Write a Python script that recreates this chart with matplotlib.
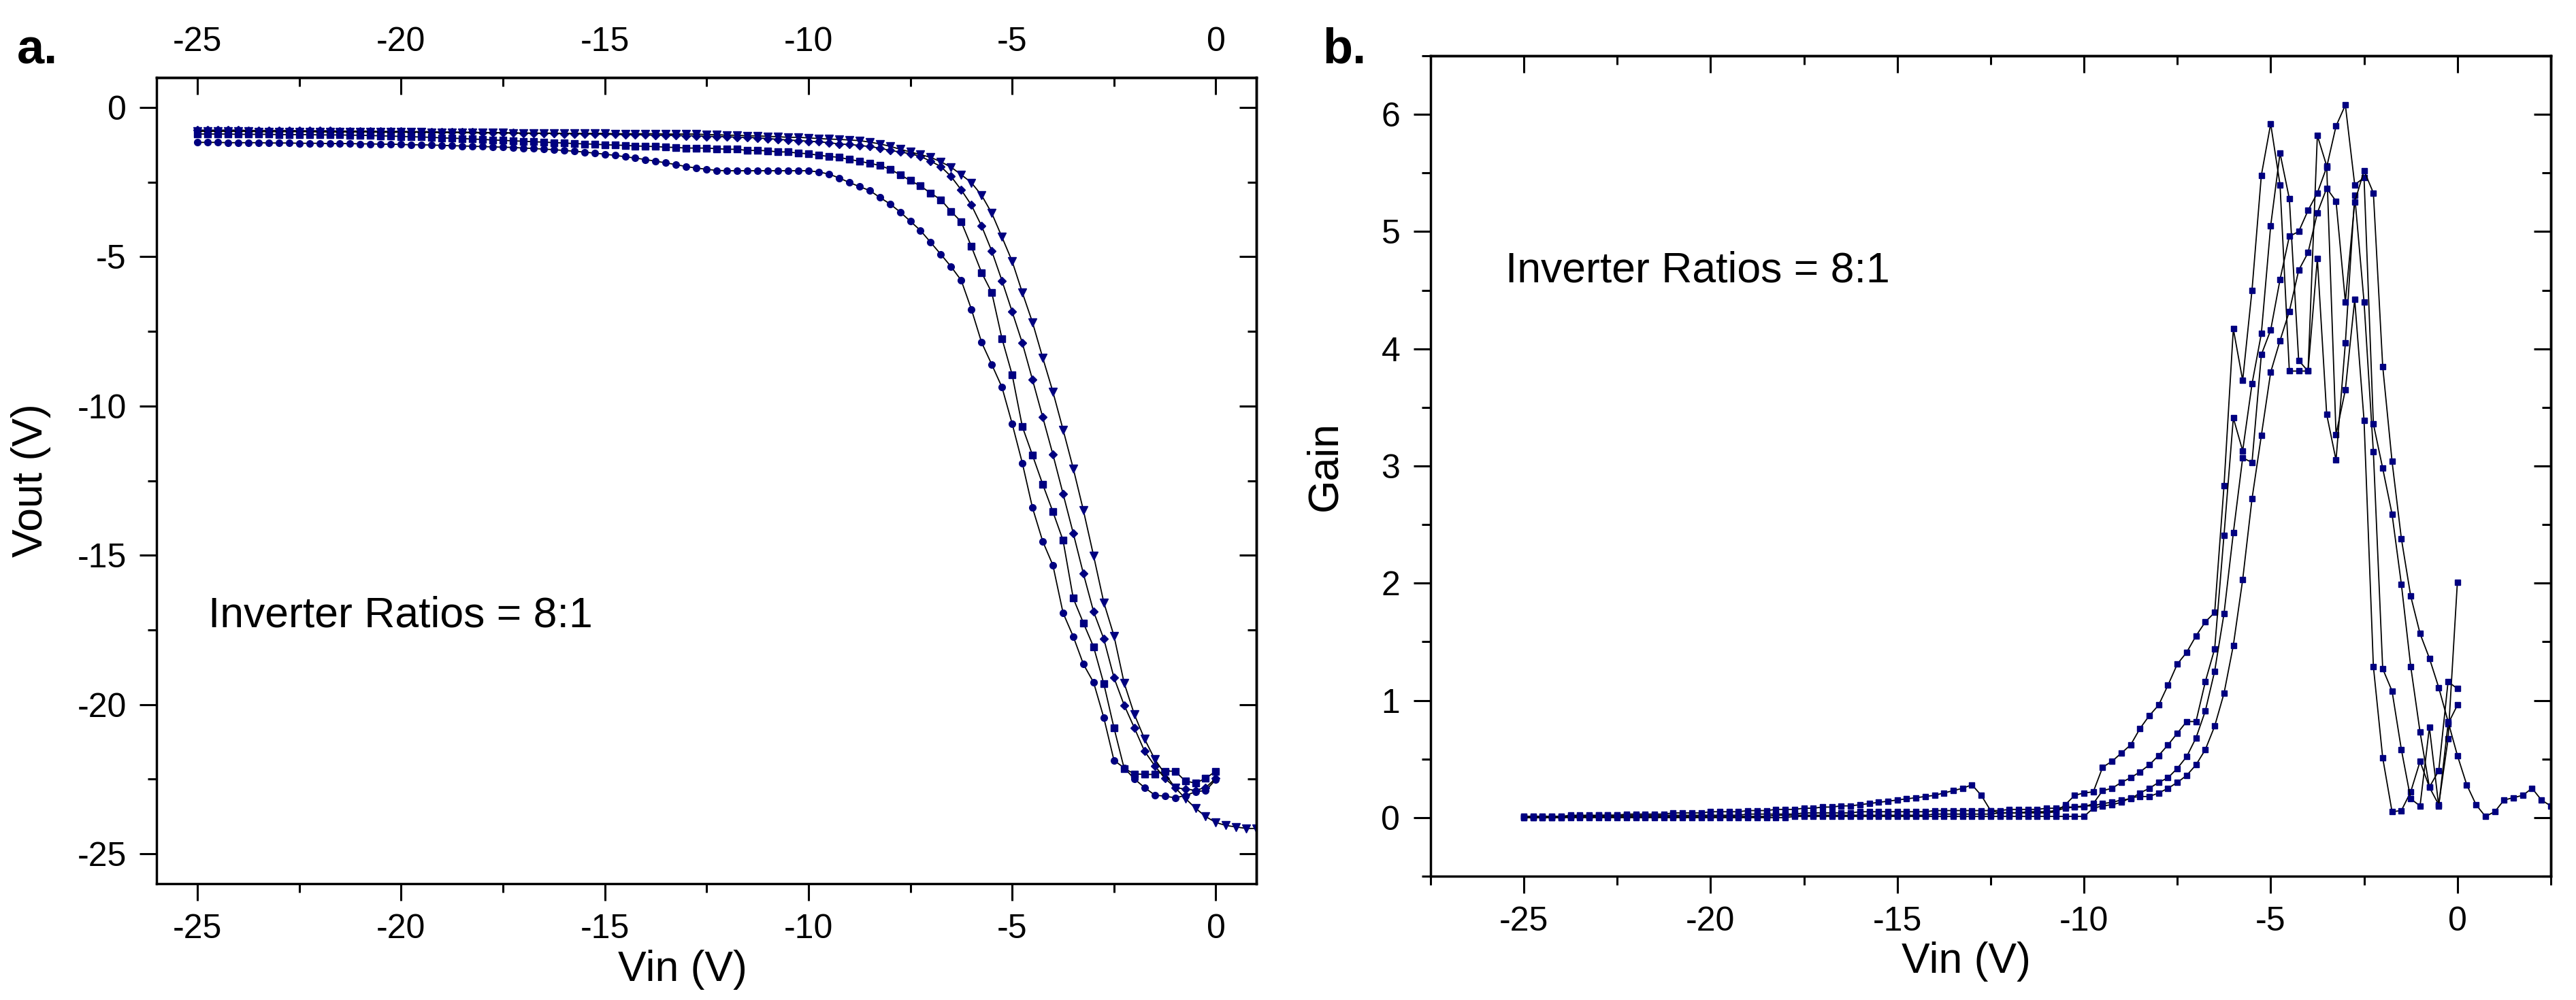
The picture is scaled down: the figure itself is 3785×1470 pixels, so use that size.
import numpy as np
import matplotlib
matplotlib.use("Agg")
import matplotlib.pyplot as plt
from matplotlib.ticker import MultipleLocator

plt.rcParams['font.family'] = ['Liberation Sans', 'DejaVu Sans']
plt.rcParams['axes.unicode_minus'] = False

# sweep grid of the measurement (0.25 V steps)
VIN = np.arange(-25, 0.001, 0.25)
VIN_TRI_A = np.arange(-25, 1.001, 0.25)
VIN_TRI_B = np.arange(-25, 2.501, 0.25)

# panel a: Vout (V) for the four inverters
VOUT_CIRCLE = [
    -1.17, -1.17, -1.17, -1.18, -1.18, -1.18, -1.18, -1.19, -1.19, -1.19, -1.20, -1.20, -1.20, -1.21, -1.21, -1.21, -1.22,
    -1.22, -1.23, -1.23, -1.24, -1.25, -1.25, -1.26, -1.27, -1.28, -1.29, -1.30, -1.31, -1.32, -1.33, -1.34, -1.36,
    -1.375, -1.395, -1.415, -1.44, -1.465, -1.495, -1.53, -1.565, -1.605, -1.65, -1.695, -1.745, -1.80, -1.855, -1.915,
    -1.98, -2.03, -2.07, -2.11, -2.12, -2.12, -2.12, -2.12, -2.12, -2.12, -2.12, -2.12, -2.12,
    -2.16, -2.23, -2.36, -2.51, -2.65, -2.78, -3.01, -3.23, -3.50, -3.81, -4.12, -4.52, -4.92, -5.33, -5.79,
    -6.76, -7.87, -8.61, -9.37, -10.59, -11.91, -13.41, -14.53, -15.33, -16.93, -17.72, -18.65, -19.26, -20.44,
    -21.87, -22.12, -22.49, -22.78, -23.03, -23.07, -23.12, -23.05, -22.92, -22.88, -22.51]
VOUT_SQUARE = [
    -0.89, -0.89, -0.89, -0.89, -0.90, -0.90, -0.90, -0.90, -0.91, -0.91, -0.91, -0.91, -0.92, -0.92, -0.92, -0.93, -0.93,
    -0.94, -0.95, -0.96, -0.97, -0.98, -0.99, -1.00, -1.02, -1.03, -1.04, -1.06, -1.07, -1.09, -1.10, -1.12, -1.13,
    -1.15, -1.16, -1.18, -1.19, -1.21, -1.22, -1.23, -1.25, -1.26, -1.27, -1.29, -1.30, -1.31, -1.33, -1.34,
    -1.36, -1.36, -1.36, -1.38, -1.40, -1.40, -1.44, -1.44, -1.45, -1.49, -1.49, -1.53, -1.55,
    -1.60, -1.64, -1.67, -1.74, -1.80, -1.87, -1.94, -2.07, -2.25, -2.45, -2.63, -2.87, -3.09, -3.48, -3.83,
    -4.66, -5.53, -6.20, -7.74, -8.95, -10.69, -11.65, -12.62, -13.54, -14.50, -16.44, -17.27, -18.07, -19.30,
    -20.78, -22.14, -22.32, -22.34, -22.34, -22.23, -22.23, -22.56, -22.63, -22.47, -22.23]
VOUT_DIAMOND = [
    -0.76, -0.76, -0.76, -0.76, -0.76, -0.77, -0.77, -0.77, -0.77, -0.77, -0.78, -0.78, -0.78, -0.78, -0.79, -0.79, -0.79,
    -0.79, -0.80, -0.80, -0.80, -0.81, -0.81, -0.81, -0.82, -0.82, -0.83, -0.83, -0.84, -0.84, -0.85, -0.85, -0.86,
    -0.86, -0.87, -0.87, -0.88, -0.88, -0.89, -0.89, -0.90, -0.90, -0.91, -0.91, -0.92, -0.93, -0.93, -0.94,
    -0.95, -0.95, -0.97, -0.97, -0.98, -1.00, -1.00, -1.02, -1.04, -1.07, -1.09, -1.11, -1.13,
    -1.15, -1.18, -1.22, -1.24, -1.27, -1.31, -1.36, -1.44, -1.49, -1.55, -1.64, -1.80, -1.98, -2.31, -2.76,
    -3.27, -3.97, -4.81, -5.80, -6.84, -7.89, -9.12, -10.37, -11.62, -12.94, -14.26, -15.62, -16.89, -17.80,
    -19.10, -20.02, -20.78, -21.56, -22.05, -22.47, -22.78, -22.83, -22.87, -22.78, -22.47]
VOUT_TRIANGLE = [
    -0.80, -0.80, -0.80, -0.80, -0.80, -0.80, -0.81, -0.81, -0.81, -0.81, -0.81, -0.81, -0.82, -0.82, -0.82, -0.82, -0.82,
    -0.82, -0.83, -0.83, -0.83, -0.83, -0.83, -0.84, -0.84, -0.84, -0.84, -0.85, -0.85, -0.85, -0.85, -0.86, -0.86,
    -0.86, -0.86, -0.86, -0.87, -0.87, -0.87, -0.87, -0.87, -0.88, -0.88, -0.88, -0.88, -0.88, -0.89, -0.89,
    -0.89, -0.89, -0.91, -0.91, -0.93, -0.93, -0.95, -0.95, -0.97, -0.98, -1.00, -1.00, -1.02,
    -1.04, -1.06, -1.07, -1.09, -1.11, -1.16, -1.22, -1.30, -1.40, -1.49, -1.58, -1.67, -1.82, -2.00, -2.25,
    -2.52, -2.94, -3.54, -4.34, -5.15, -6.20, -7.20, -8.38, -9.52, -10.79, -12.09, -13.50, -15.02, -16.58,
    -17.70, -19.28, -20.33, -21.15, -21.83, -22.32, -22.78, -23.14, -23.47, -23.75, -23.95,
    -24.05, -24.10, -24.15, -24.15]

# panel b: gain for the same four inverters
GAIN_1 = [
    0.01, 0.01, 0.01, 0.01, 0.01, 0.02, 0.02, 0.02, 0.02, 0.02, 0.02, 0.03, 0.03, 0.03, 0.03, 0.03, 0.04, 0.04, 0.04, 0.04, 0.05,
    0.05, 0.05, 0.05, 0.06, 0.06, 0.06, 0.07, 0.07, 0.07, 0.08, 0.08, 0.09, 0.09, 0.10, 0.10, 0.11, 0.12, 0.13, 0.14, 0.15,
    0.16, 0.17, 0.18, 0.19, 0.21, 0.23, 0.25, 0.28,
    0.19, 0.06, 0.04, 0.04, 0.04, 0.04, 0.04, 0.04, 0.05,
    0.11, 0.19, 0.21, 0.22, 0.43, 0.48, 0.55, 0.62, 0.76, 0.87, 0.96, 1.13,
    1.31, 1.41, 1.55, 1.67, 1.75, 2.83, 4.17, 3.73,
    4.50, 5.48, 5.92, 5.40, 3.81, 3.81, 3.81, 5.82, 5.56, 3.27, 3.65, 4.42, 3.39, 1.29,
    0.51, 0.05, 0.06, 0.22, 0.48, 0.26, 0.11, 0.67, 2.01]
GAIN_2 = [
    0.01, 0.01, 0.01, 0.01, 0.01, 0.01, 0.01, 0.01, 0.02, 0.02, 0.02, 0.02, 0.02, 0.02, 0.02, 0.02, 0.02, 0.02, 0.02, 0.02, 0.02,
    0.02, 0.02, 0.02, 0.03, 0.03, 0.03, 0.03, 0.03, 0.03, 0.04, 0.04, 0.04, 0.04, 0.04, 0.04, 0.05, 0.05, 0.05, 0.05, 0.05,
    0.05, 0.05, 0.05, 0.06, 0.06, 0.06, 0.06, 0.06,
    0.06, 0.06, 0.06, 0.07, 0.07, 0.07, 0.07, 0.08, 0.08,
    0.09, 0.09, 0.09, 0.12, 0.23, 0.25, 0.30, 0.34, 0.39, 0.45, 0.53, 0.62,
    0.72, 0.82, 0.82, 1.16, 1.44, 2.41, 3.41, 3.13,
    3.70, 4.13, 5.05, 5.67, 5.28, 3.90, 3.81, 4.77, 3.44, 3.05, 4.05, 5.31, 4.40, 3.12,
    1.27, 1.08, 0.58, 0.16, 0.10, 0.77, 0.10, 0.80, 0.96]
GAIN_3 = [
    0.00, 0.00, 0.00, 0.00, 0.00, 0.01, 0.01, 0.01, 0.01, 0.01, 0.01, 0.01, 0.01, 0.01, 0.01, 0.01, 0.01, 0.01, 0.01, 0.01, 0.01,
    0.01, 0.01, 0.01, 0.01, 0.01, 0.01, 0.02, 0.02, 0.02, 0.02, 0.02, 0.02, 0.02, 0.02, 0.02, 0.02, 0.02, 0.02, 0.02, 0.02,
    0.02, 0.02, 0.02, 0.03, 0.03, 0.03, 0.03, 0.03,
    0.03, 0.03, 0.04, 0.04, 0.04, 0.05, 0.05, 0.05, 0.06,
    0.08, 0.09, 0.10, 0.10, 0.12, 0.13, 0.15, 0.16, 0.21, 0.25, 0.30, 0.34,
    0.42, 0.52, 0.68, 0.91, 1.25, 1.74, 2.43, 3.07,
    3.03, 3.95, 4.16, 4.59, 4.96, 5.00, 5.18, 5.33, 5.55, 5.90, 6.08, 5.40, 5.46, 3.36,
    2.98, 2.59, 1.99, 1.29, 0.73, 0.26, 0.40, 1.16, 1.10]
GAIN_4 = [
    0.00, 0.00, 0.00, 0.00, 0.00, 0.00, 0.00, 0.00, 0.00, 0.00, 0.00, 0.00, 0.00, 0.00, 0.00, 0.00, 0.00, 0.00, 0.00, 0.00, 0.00,
    0.00, 0.00, 0.00, 0.00, 0.00, 0.00, 0.00, 0.00, 0.01, 0.01, 0.01, 0.01, 0.01, 0.01, 0.01, 0.01, 0.01, 0.01, 0.01, 0.01,
    0.01, 0.01, 0.01, 0.01, 0.01, 0.01, 0.01, 0.01,
    0.01, 0.01, 0.01, 0.01, 0.01, 0.01, 0.01, 0.01, 0.01,
    0.01, 0.01, 0.01, 0.08, 0.10, 0.11, 0.13, 0.17, 0.18, 0.18, 0.21, 0.25,
    0.30, 0.36, 0.45, 0.58, 0.78, 1.06, 1.47, 2.03,
    2.72, 3.26, 3.80, 4.07, 4.32, 4.67, 4.82, 5.16, 5.37, 5.26, 4.40, 5.25, 5.52, 5.33,
    3.85, 3.04, 2.38, 1.89, 1.57, 1.36, 1.11, 0.82, 0.53,
    0.28, 0.11, 0.01, 0.05, 0.15, 0.17, 0.19, 0.25, 0.15, 0.10]

NOTE = "Inverter Ratios = 8:1"
NAVY = '#000080'
TICK_FS = 36
LABEL_FS = 45


def style_axes(ax, xlim, ylim, xmaj, xmin, ymaj, ymin, top_labels):
    ax.set_xlim(*xlim)
    ax.set_ylim(*ylim)
    for sp in ax.spines.values():
        sp.set_linewidth(2.5)
    ax.xaxis.set_major_locator(MultipleLocator(xmaj))
    ax.xaxis.set_minor_locator(MultipleLocator(xmin))
    ax.yaxis.set_major_locator(MultipleLocator(ymaj))
    ax.yaxis.set_minor_locator(MultipleLocator(ymin))
    ax.tick_params(which='both', direction='out', top=False, right=False,
                   width=2.2, labelsize=TICK_FS, pad=14)
    ax.tick_params(which='major', length=18)
    ax.tick_params(which='minor', length=9.5)

    # inward ticks on the top and right sides
    top = ax.secondary_xaxis('top')
    top.xaxis.set_major_locator(MultipleLocator(xmaj))
    top.xaxis.set_minor_locator(MultipleLocator(xmin))
    top.tick_params(which='both', direction='in', width=2.2, labelsize=TICK_FS,
                    pad=21, labeltop=top_labels)
    top.tick_params(which='major', length=18)
    top.tick_params(which='minor', length=9.5)
    top.spines['top'].set_linewidth(2.5)

    right = ax.secondary_yaxis('right')
    right.yaxis.set_major_locator(MultipleLocator(ymaj))
    right.yaxis.set_minor_locator(MultipleLocator(ymin))
    right.tick_params(which='both', direction='in', width=2.2, labelright=False)
    right.tick_params(which='major', length=18)
    right.tick_params(which='minor', length=9.5)
    right.spines['right'].set_linewidth(2.5)


fig = plt.figure(figsize=(37.85, 14.7), dpi=100)
ax_a = fig.add_axes([0.0608, 0.1163, 0.4270, 0.8061])
ax_b = fig.add_axes([0.5553, 0.1238, 0.4349, 0.8204])

# panel a
line_kw = dict(color='black', linewidth=1.3, markerfacecolor=NAVY, markeredgecolor=NAVY)
ax_a.plot(VIN, VOUT_CIRCLE, marker='o', markersize=7, **line_kw)
ax_a.plot(VIN, VOUT_SQUARE, marker='s', markersize=6.5, **line_kw)
ax_a.plot(VIN, VOUT_DIAMOND, marker='D', markersize=6.5, **line_kw)
ax_a.plot(VIN_TRI_A, VOUT_TRIANGLE, marker='v', markersize=8.5, **line_kw)
style_axes(ax_a, (-26, 1), (-26, 1), 5, 2.5, 5, 2.5, True)
ax_a.set_xlabel('Vin (V)', fontsize=LABEL_FS)
ax_a.set_ylabel('Vout (V)', fontsize=LABEL_FS)
ax_a.xaxis.set_label_coords(0.478, -0.082)
ax_a.yaxis.set_label_coords(-0.096, 0.5)
ax_a.text(-24.73, -17.39, NOTE, fontsize=LABEL_FS, ha='left', va='baseline')

# panel b
for g in (GAIN_1, GAIN_2, GAIN_3):
    ax_b.plot(VIN, g, marker='s', markersize=5.2, **line_kw)
ax_b.plot(VIN_TRI_B, GAIN_4, marker='s', markersize=5.2, **line_kw)
style_axes(ax_b, (-27.5, 2.5), (-0.5, 6.5), 5, 2.5, 1, 0.5, False)
ax_b.set_xlabel('Vin (V)', fontsize=LABEL_FS)
ax_b.set_ylabel('Gain', fontsize=LABEL_FS)
ax_b.xaxis.set_label_coords(0.478, -0.080)
ax_b.yaxis.set_label_coords(-0.076, 0.5)
ax_b.text(-25.5, 4.57, NOTE, fontsize=LABEL_FS, ha='left', va='baseline')

fig.text(0.0065, 0.9367, 'a.', fontsize=52, fontweight='bold', ha='left', va='baseline')
fig.text(0.5134, 0.937, 'b.', fontsize=52, fontweight='bold', ha='left', va='baseline')

fig.savefig('out.png', dpi=100)
